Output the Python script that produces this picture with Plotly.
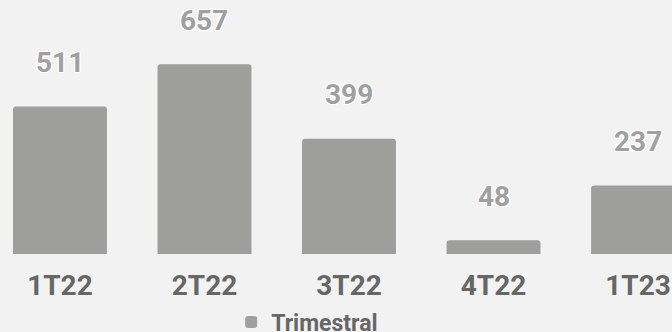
import plotly.graph_objects as go

# Data
quarters = ["1T22", "2T22", "3T22", "4T22", "1T23"]
values = [511, 657, 399, 48, 237]

BG = "#f2f2f2"
BAR = "#9e9e9c"
LABEL = "#666666"

fig = go.Figure()

fig.add_trace(go.Bar(
    x=quarters,
    y=values,
    name="Trimestral",
    marker=dict(color=BAR, line=dict(width=0)),
    hoverinfo="skip",
))

# value labels above the bars, outlined in white
outline = ("1px 1px 0 #fff, -1px -1px 0 #fff, 1px -1px 0 #fff, -1px 1px 0 #fff, "
           "0 1px 0 #fff, 1px 0 0 #fff, 0 -1px 0 #fff, -1px 0 0 #fff")
for q, v in zip(quarters, values):
    fig.add_annotation(
        x=q, y=v, text=str(v), showarrow=False,
        yanchor="middle", yshift=44,
        font=dict(family="Roboto", size=28, color="#a0a0a0", weight="bold", shadow=outline),
    )

fig.update_layout(
    width=672,
    height=332,
    margin=dict(l=0, r=0, t=0, b=78),
    paper_bgcolor=BG,
    plot_bgcolor=BG,
    bargap=0.35,
    barcornerradius=3,
    font=dict(family="Roboto", color=LABEL),
    showlegend=True,
    legend=dict(
        orientation="h",
        xref="container", yref="container",
        x=0.344, xanchor="left",
        y=0.03, yanchor="middle",
        font=dict(size=23, color=LABEL, weight="bold"),
        bgcolor="rgba(0,0,0,0)",
        itemwidth=30,
    ),
    xaxis=dict(
        range=[-0.415, 4.235],
        showgrid=False, zeroline=False, showline=False,
        tickfont=dict(size=28, color=LABEL, weight="bold"),
        ticks="", ticklabelstandoff=12,
        automargin=False,
        fixedrange=True,
    ),
    yaxis=dict(
        range=[0, 880],
        visible=False,
        automargin=False,
        fixedrange=True,
    ),
)

fig.write_html(
    "out.html",
    config=dict(displayModeBar=False),
    post_script="document.body.style.margin='0';document.body.style.overflow='hidden';",
)
